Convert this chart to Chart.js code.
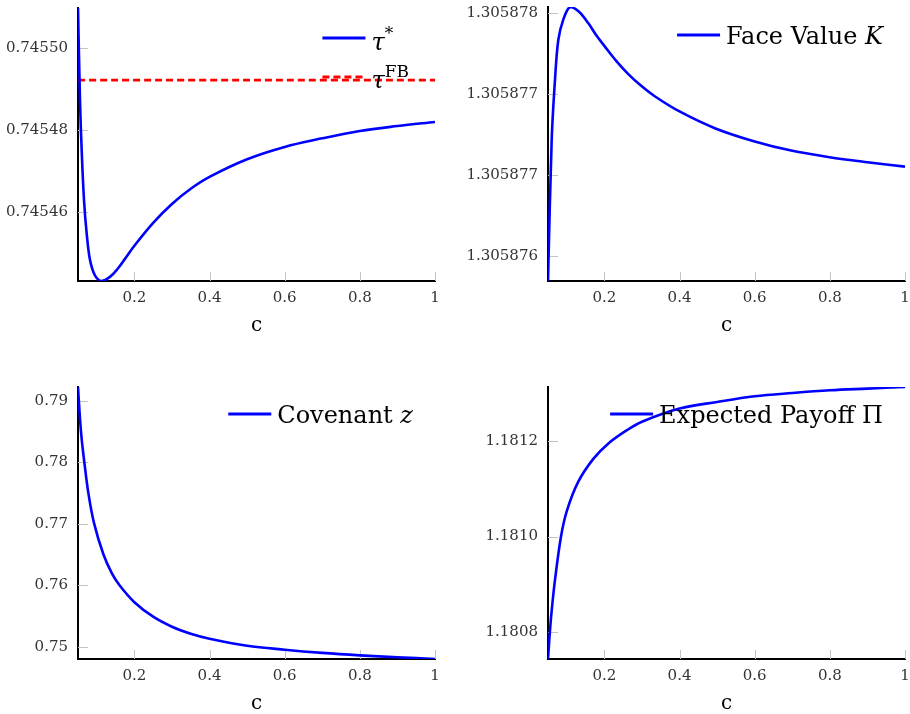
<!DOCTYPE html>
<html>
<head>
<meta charset="utf-8">
<script src="https://cdn.jsdelivr.net/npm/chart.js@4.4.1/dist/chart.umd.min.js"></script>
<style>
  html, body { margin: 0; padding: 0; background: #fff; }
  #wrap { position: relative; width: 910px; height: 714px; }
  #wrap canvas { position: absolute; }
</style>
</head>
<body>
<div id="wrap">
  <canvas id="cTau" width="455" height="340" style="left:0;top:0"></canvas>
  <canvas id="cK" width="455" height="340" style="left:455px;top:0"></canvas>
  <canvas id="cZ" width="455" height="374" style="left:0;top:340px"></canvas>
  <canvas id="cPi" width="455" height="374" style="left:455px;top:340px"></canvas>
</div>
<script>
"use strict";

// --- dados -------------------------------------------------------------------
const xTicks = [0.2, 0.4, 0.6, 0.8, 1];
const xLabels = ["0.2", "0.4", "0.6", "0.8", "1"];

// painel 1: tau* e tau^FB
const cTau = [0.05, 0.0553, 0.0598, 0.066, 0.073, 0.082, 0.095, 0.113, 0.135, 0.154, 0.175, 0.2, 0.25, 0.3, 0.35, 0.4, 0.5, 0.6, 0.7, 0.8, 0.9, 1.0];
const tauStar = [0.7455098, 0.7454873, 0.7454751, 0.7454629, 0.7454549, 0.7454483, 0.7454446, 0.7454432, 0.7454442, 0.7454460, 0.7454486, 0.7454518, 0.7454574, 0.7454620, 0.7454657, 0.7454686, 0.7454729, 0.7454759, 0.7454780, 0.7454798, 0.7454810, 0.7454820];
const cFB = [0.05, 1.0];
const tauFB = [0.7454922, 0.7454922];
const yTicksTau = [0.74546, 0.74548, 0.74550];
const yLabelsTau = ["0.74546", "0.74548", "0.74550"];

// painel 2: face value K
const cK = [0.05, 0.0598, 0.0686, 0.0775, 0.0907, 0.1085, 0.1324, 0.157, 0.179, 0.201, 0.232, 0.263, 0.298, 0.334, 0.4, 0.494, 0.6, 0.697, 0.799, 0.9, 1.0];
const faceK = [1.305876346, 1.305877216, 1.305877586, 1.305877833, 1.305877957, 1.305878035, 1.305878006, 1.305877936, 1.305877859, 1.305877792, 1.305877701, 1.305877623, 1.305877549, 1.305877485, 1.305877391, 1.305877288, 1.305877206, 1.30587715, 1.305877109, 1.305877078, 1.305877051];
const yTicksK = [1.3058765, 1.305877, 1.3058775, 1.305878];
const yLabelsK = ["1.305876", "1.305877", "1.305877", "1.305878"];

// painel 3: covenant z
const cZ = [0.05, 0.0553, 0.0598, 0.0668, 0.0774, 0.0925, 0.1173, 0.1395, 0.16, 0.2, 0.25, 0.3, 0.35, 0.4, 0.5, 0.6, 0.7, 0.8, 0.9, 1.0];
const covZ = [0.79223, 0.78706, 0.78377, 0.78003, 0.77504, 0.77013, 0.76507, 0.76200, 0.76003, 0.75724, 0.75488, 0.75325, 0.75211, 0.75130, 0.75016, 0.74951, 0.74899, 0.74859, 0.74828, 0.748];
const yTicksZ = [0.75, 0.76, 0.77, 0.78, 0.79];
const yLabelsZ = ["0.75", "0.76", "0.77", "0.78", "0.79"];

// painel 4: expected payoff Pi
const cPi = [0.05, 0.055, 0.06, 0.0686, 0.0845, 0.1, 0.13, 0.17, 0.21, 0.26, 0.3, 0.4, 0.5, 0.6, 0.7, 0.8, 0.9, 1.0];
const payPi = [1.1807436, 1.1808006, 1.1808466, 1.1809093, 1.1809998, 1.1810535, 1.1811141, 1.1811622, 1.1811946, 1.1812228, 1.1812405, 1.1812681, 1.1812819, 1.1812938, 1.1813007, 1.1813064, 1.1813099, 1.1813133];
const yTicksPi = [1.1808, 1.1810, 1.1812];
const yLabelsPi = ["1.1808", "1.1810", "1.1812"];

// --- estilo ------------------------------------------------------------------
const SERIF = "'DejaVu Serif', serif";
const BLUE = "#0000ff", RED = "#ff0000";

// marcas de tick curtas, cinza, para dentro da área
const innerTicks = {
  id: "innerTicks",
  beforeDatasetsDraw(chart) {
    const { ctx, chartArea: a, scales: { x, y } } = chart;
    ctx.save();
    ctx.strokeStyle = "#c4c4c4"; ctx.lineWidth = 1;
    ctx.beginPath();
    x.ticks.forEach((t) => { const px = Math.round(x.getPixelForValue(t.value)) + 0.5; ctx.moveTo(px, a.bottom); ctx.lineTo(px, a.bottom - 9); });
    y.ticks.forEach((t) => { const py = Math.round(y.getPixelForValue(t.value)) + 0.5; ctx.moveTo(a.left, py); ctx.lineTo(a.left + 10, py); });
    ctx.stroke();
    ctx.restore();
  }
};

// legenda no canto superior direito com texto "matemático"
function drawParts(ctx, parts, x, y, measureOnly) {
  let w = 0;
  parts.forEach((p) => {
    const sup = p.s === "sup";
    ctx.font = (p.s === "i" ? "italic " : "") + (sup ? 17 : 24) + "px " + SERIF;
    if (!measureOnly) ctx.fillText(p.t, x + w, y + (sup ? -11 : 0));
    w += ctx.measureText(p.t).width;
  });
  return w;
}
const texLegend = {
  id: "texLegend",
  afterDatasetsDraw(chart, args, opts) {
    if (!opts.entries) return;
    const { ctx, chartArea: a } = chart;
    ctx.save();
    ctx.fillStyle = "#000"; ctx.textBaseline = "alphabetic";
    const maxW = Math.max(...opts.entries.map((e) => drawParts(ctx, e.parts, 0, 0, true)));
    const tx = a.right - (opts.gap || 22) - maxW;
    opts.entries.forEach((e, i) => {
      const ly = a.top + opts.top + i * 39;
      ctx.strokeStyle = e.color; ctx.lineWidth = 3;
      ctx.setLineDash(e.dash || []);
      ctx.beginPath(); ctx.moveTo(tx - 49, ly); ctx.lineTo(tx - 6, ly); ctx.stroke();
      ctx.setLineDash([]);
      drawParts(ctx, e.parts, tx, ly + e.dy, false);
    });
    ctx.restore();
  }
};

function pts(xs, ys) { return xs.map((c, i) => ({ x: c, y: ys[i] })); }

function mkPanel(id, area, datasets, yMin, yMax, yTicks, yLabels, legend, titlePad) {
  const el = document.getElementById(id);
  const W = el.width, H = el.height;
  const tickFont = { family: SERIF, size: 15 };
  return new Chart(el, {
    type: "line",
    data: { datasets },
    options: {
      responsive: false, animation: false,
      layout: { padding: { left: 0, top: area.top, right: W - area.right, bottom: 0 } },
      elements: { point: { radius: 0 }, line: { tension: 0.35 } },
      plugins: { legend: { display: false }, tooltip: { enabled: false }, texLegend: legend },
      scales: {
        x: {
          type: "linear", min: 0.05, max: 1,
          afterBuildTicks: (s) => { s.ticks = xTicks.map((v) => ({ value: v })); },
          afterFit: (s) => { s.height = H - area.bottom; s.paddingLeft = 0; s.paddingRight = 0; },
          grid: { display: false, drawTicks: false },
          border: { display: true, color: "#000", width: 2 },
          ticks: { callback: (v, i) => xLabels[i], autoSkip: false, maxRotation: 0, padding: 8, color: "#333", font: tickFont },
          title: { display: true, text: "c", color: "#000", font: { family: SERIF, size: 20, lineHeight: 1 }, padding: { top: 0, bottom: titlePad } }
        },
        y: {
          type: "linear", min: yMin, max: yMax,
          afterBuildTicks: (s) => { s.ticks = yTicks.map((v) => ({ value: v })); },
          afterFit: (s) => { s.width = area.left; s.paddingTop = 0; s.paddingBottom = 0; },
          grid: { display: false, drawTicks: false },
          border: { display: true, color: "#000", width: 2 },
          ticks: { callback: (v, i) => yLabels[i], autoSkip: false, padding: 10, color: "#333", font: tickFont }
        }
      }
    },
    plugins: [innerTicks, texLegend]
  });
}

const blueLine = (label, xs, ys) => ({ label, data: pts(xs, ys), borderColor: BLUE, borderWidth: 2.6, fill: false });

mkPanel("cTau", { left: 78, right: 435, top: 8, bottom: 281 },
  [blueLine("tau*", cTau, tauStar),
   { label: "tauFB", data: pts(cFB, tauFB), borderColor: RED, borderWidth: 2.6, borderDash: [7, 4], fill: false }],
  0.7454432, 0.7455098, yTicksTau, yLabelsTau,
  { top: 30, gap: 26, entries: [
    { color: BLUE, dy: 12, parts: [{ t: "τ", s: "i" }, { t: "*", s: "sup" }] },
    { color: RED, dash: [7, 4], dy: 11, parts: [{ t: "τ", s: "i" }, { t: "FB", s: "sup" }] }
  ] }, 4);

mkPanel("cK", { left: 93, right: 450, top: 7, bottom: 281 },
  [blueLine("Face Value K", cK, faceK)],
  1.305876346, 1.305878035, yTicksK, yLabelsK,
  { top: 28, entries: [{ color: BLUE, dy: 9, parts: [{ t: "Face Value " }, { t: "K", s: "i" }] }] }, 4);

mkPanel("cZ", { left: 78, right: 435, top: 47, bottom: 319 },
  [blueLine("Covenant z", cZ, covZ)],
  0.748, 0.79223, yTicksZ, yLabelsZ,
  { top: 27, entries: [{ color: BLUE, dy: 9, parts: [{ t: "Covenant " }, { t: "z", s: "i" }] }] }, 0);

mkPanel("cPi", { left: 93, right: 450, top: 47, bottom: 319 },
  [blueLine("Expected Payoff Π", cPi, payPi)],
  1.1807436, 1.1813133, yTicksPi, yLabelsPi,
  { top: 27, entries: [{ color: BLUE, dy: 9, parts: [{ t: "Expected Payoff Π" }] }] }, 0);
</script>
</body>
</html>
